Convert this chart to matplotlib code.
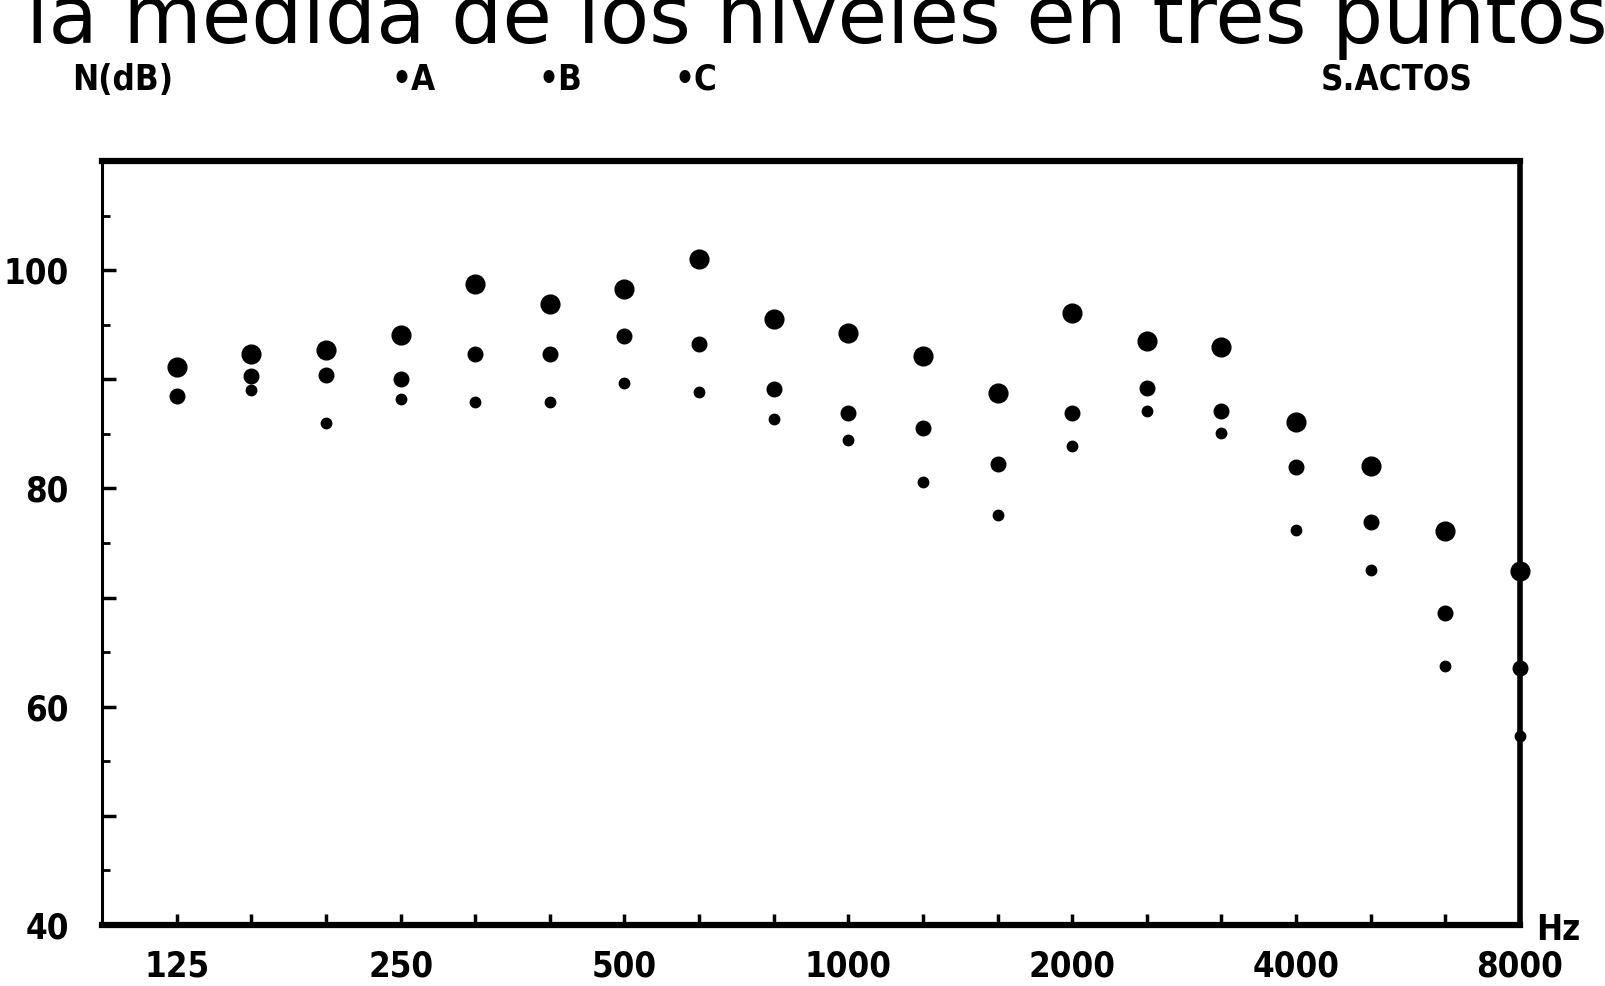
import matplotlib
matplotlib.use('Agg')
import matplotlib.pyplot as plt
from matplotlib.ticker import FixedLocator

# ---- data ----
bands = ['125', '160', '200', '250', '315', '400', '500', '630', '800', '1000',
         '1250', '1600', '2000', '2500', '3150', '4000', '5000', '6300', '8000']
level_A = [91.1, 92.3, 92.7, 94.1, 98.7, 96.9, 98.3, 101.0, 95.5, 94.2,
           92.1, 88.7, 96.1, 93.5, 93.0, 86.1, 82.1, 76.1, 72.4]
level_B = [88.5, 90.3, 90.4, 90.0, 92.3, 92.3, 94.0, 93.2, 89.1, 86.9,
           85.5, 82.2, 86.9, 89.2, 87.1, 82.0, 76.9, 68.6, 63.5]
level_C = [88.4, 89.0, 86.0, 88.2, 87.9, 87.9, 89.7, 88.8, 86.4, 84.4,
           80.6, 77.6, 83.9, 87.1, 85.1, 76.2, 72.5, 63.7, 57.3]
labelled_bands = ['125', '250', '500', '1000', '2000', '4000', '8000']
y_ticks = [40, 60, 80, 100]
series_names = ['A', 'B', 'C']

title = 'la medida de los niveles en tres puntos'
y_title = 'N(dB)'
room = 'S.ACTOS'
x_unit = 'Hz'

small = dict(family='DejaVu Sans', fontstretch='condensed', fontweight='bold', fontsize=25)

fig = plt.figure(figsize=(16.05, 9.86), dpi=100)
ax = fig.add_axes([0.0636, 0.0619, 0.947 - 0.0636, 0.8367 - 0.0619])

x = list(range(len(bands)))
ax.plot(x, level_A, 'o', color='black', markersize=13.5, linestyle='none', clip_on=False)
ax.plot(x, level_B, 'o', color='black', markersize=10.5, linestyle='none', clip_on=False)
ax.plot(x, level_C, 'o', color='black', markersize=7.5, linestyle='none', clip_on=False)

ax.set_xlim(-1, len(bands) - 1)
ax.set_ylim(40, 110)

# x ticks: every band, labels only at octave bands
ax.set_xticks(x)
ax.set_xticklabels([b if b in labelled_bands else '' for b in bands], **small)
ax.tick_params(axis='x', direction='in', length=8, width=2.5, pad=18, colors='black')

ax.set_yticks(list(range(40, 111, 10)))
ax.set_yticklabels([str(v) if v in y_ticks else '' for v in range(40, 111, 10)], **small)
ax.yaxis.set_minor_locator(FixedLocator(list(range(45, 110, 10))))
ax.tick_params(axis='y', which='major', direction='in', length=10, width=2.5, pad=24)
ax.tick_params(axis='y', which='minor', direction='in', length=6, width=2)

for side, lw in [('top', 4.5), ('bottom', 4.5), ('right', 4.0), ('left', 2.2)]:
    ax.spines[side].set_linewidth(lw)
    ax.spines[side].set_color('black')

# title (clipped at top as in the scan)
fig.text(0.016, 1 - 43 / 986, title, fontsize=58, family='DejaVu Sans',
         ha='left', va='baseline', color='black')

# header labels
hy = 1 - 80 / 986
fig.text(123 / 1605, hy, y_title, ha='center', va='center', **small)
legend_x = [414, 560, 696]
for name, lx in zip(series_names, legend_x):
    fig.text(lx / 1605, hy, '\u2022' + name, ha='center', va='center', **small)
fig.text(1397 / 1605, hy, room, ha='center', va='center', **small)
fig.text(1558 / 1605, 1 - 930 / 986, x_unit, ha='center', va='center', **small)

fig.savefig('out.png', dpi=100, facecolor='white')
